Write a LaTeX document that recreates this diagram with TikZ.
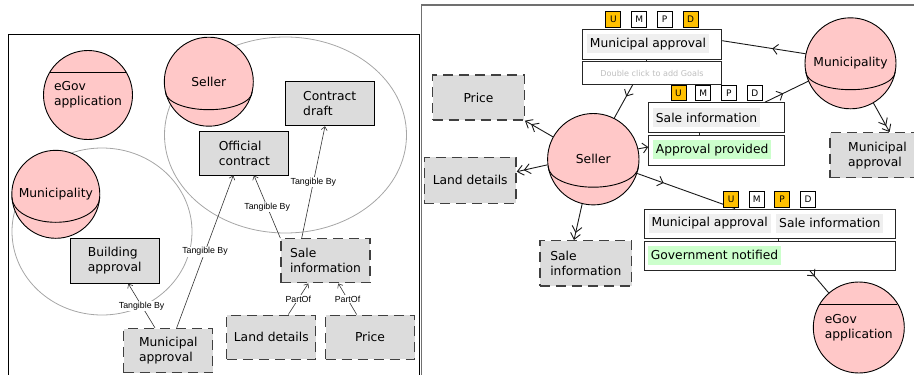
\documentclass[tikz,border=0pt]{standalone}
\usepackage{fontspec}
\setmainfont{DejaVu Sans}
\newfontfamily\lblfont{Liberation Sans}
\usetikzlibrary{arrows.meta,decorations.markings}
\definecolor{pinkc}{HTML}{FFC8C8}
\definecolor{boxgray}{HTML}{DCDCDC}
\definecolor{badgey}{HTML}{FFC000}
\definecolor{greenbg}{HTML}{CCFFCC}
\definecolor{textbg}{HTML}{EFEFEF}
\definecolor{dashc}{HTML}{404040}
\definecolor{framegray}{HTML}{707070}
\tikzset{
  mainfont/.style={font=\fontsize{12.3pt}{15pt}\selectfont},
  actor/.style={circle, draw=black, fill=pinkc, line width=0.9pt, minimum size=89pt, inner sep=0pt, align=left, mainfont},
  docbox/.style={rectangle, fill=boxgray, minimum width=89pt, minimum height=44pt, inner sep=0pt, align=left, mainfont},
  solidbox/.style={docbox, draw=black, line width=0.9pt},
  dashbox/.style={docbox, draw=dashc, line width=1.3pt, dash pattern=on 10pt off 6pt},
  goalbox/.style={rectangle, draw=black!85, line width=1pt, fill=white, inner sep=0pt, minimum height=30pt},
  goaltxt/.style={rectangle, fill=textbg, inner xsep=3pt, inner ysep=0pt, minimum height=19pt, anchor=west, mainfont},
  goalok/.style={goaltxt, fill=greenbg},
  badge/.style={rectangle, draw=black, line width=0.7pt, minimum width=15pt, minimum height=15.5pt, inner sep=0pt, fill=white, font=\fontsize{9pt}{10pt}\selectfont},
  badgeon/.style={badge, fill=badgey},
  tang/.style={draw=black!80, line width=0.6pt, -{Straight Barb[length=3.5pt,width=6pt]}},
  lbl/.style={font=\lblfont\fontsize{8.8pt}{10pt}\selectfont, fill=white, inner sep=1pt},
  boundary/.style={draw=black!35, line width=0.8pt},
  own/.style={draw=black!90, line width=0.9pt, -{Straight Barb[length=6pt,width=10pt,sep=0pt]Straight Barb[length=6pt,width=10pt]}},
  deleg/.style={draw=black!90, line width=0.9pt, postaction={decorate}, decoration={markings, mark=at position #1 with {\arrow{Straight Barb[length=5pt,width=10pt]}}}},
  deleg/.default=0.5,
  delegend/.style={draw=black!90, line width=0.9pt, -{Straight Barb[length=5pt,width=10pt]}},
}
\begin{document}
\begin{tikzpicture}[x=1pt,y=-1pt]
\useasboundingbox (0,0) rectangle (914,375);
\begin{scope}
\clip (0,0) rectangle (914,375);
% frames
\draw[black, line width=1pt] (8,380) -- (8,34) -- (419.5,34) -- (419.5,380);
\draw[framegray, line width=1.5pt] (421.7,380) -- (421.7,5) -- (920,5);
% boundaries
\draw[boundary] (285.5,135) ellipse[x radius=121pt, y radius=98pt];
\draw[boundary] (102,231.5) ellipse[x radius=90pt, y radius=83.5pt];
% ---------- left panel ----------
\node[actor] (egovL) at (88,95) {eGov\\application};
\draw[line width=0.9pt] ([shift={(-38.1,-23)}]egovL.center) -- ++(76.2,0);
\node[actor] (sellerL) at (208.8,81.7) {Seller};
\draw[line width=0.9pt] ([shift={(-43.4,10)}]sellerL.center) arc[start angle=180, end angle=360, x radius=43.4pt, y radius=18pt];
\node[actor, minimum size=88pt] (muniL) at (55.8,194.3) {Municipality};
\draw[line width=0.9pt] ([shift={(-43.9,3)}]muniL.center) arc[start angle=180, end angle=360, x radius=43.9pt, y radius=25pt];
\node[solidbox] (draft) at (329.7,103.8) {Contract\\draft};
\node[solidbox] (official) at (244.3,153) {Official\\contract};
\node[solidbox, minimum height=45pt] (building) at (114.7,260.8) {Building\\approval};
\node[dashbox] (saleL) at (325.5,260.8) {Sale\\information};
\node[dashbox] (muniApL) at (168.3,350.5) {Municipal\\approval};
\node[dashbox] (landL) at (271.3,337.2) {Land details};
\node[dashbox] (priceL) at (370,337.2) {Price};
\draw[tang] ([xshift=-13.3pt]muniApL.north) -- node[lbl, midway] {Tangible By} ([xshift=13.6pt]building.south);
\draw[tang] ([xshift=8.4pt]muniApL.north) -- node[lbl, midway] {Tangible By} ([xshift=-11pt]official.south);
\draw[tang] (saleL.north west) -- node[lbl, midway] {Tangible By} ([xshift=9.7pt]official.south);
\draw[tang] ([xshift=-23.8pt]saleL.north) -- node[lbl, midway] {Tangible By} ([xshift=-4.7pt]draft.south);
\draw[tang] ([xshift=17pt]landL.north) -- node[lbl, midway] {PartOf} ([xshift=-17.2pt]saleL.south);
\draw[tang] ([xshift=-13.3pt]priceL.north) -- node[lbl, midway] {PartOf} ([xshift=12.8pt]saleL.south);
% ---------- right panel ----------
\node[goalbox, minimum width=139.4pt] (goal1) at (652,44.3) {};
\node[goaltxt] (g1t) at (586.7,43.8) {Municipal approval};
\node[goalbox, minimum width=139.4pt, minimum height=22.6pt, text=black!25, font=\fontsize{8.1pt}{10pt}\selectfont] (dbl) at (652,73) {Double click to add Goals};
\draw[black!85, line width=0.8pt] ([xshift=-5.3pt]goal1.south) -- ([xshift=-5.3pt]dbl.north);
\node[goalbox, minimum width=135.6pt] (goal2) at (716.5,117.7) {};
\node[goaltxt] (g2t) at (652.7,117.5) {Sale information};
\node[goalbox, minimum width=135.6pt] (goal3) at (716.5,150) {};
\node[goalok] (g3t) at (652.7,149.7) {Approval provided};
\draw[black!85, line width=0.8pt] ([xshift=-17.2pt]goal2.south) -- ([xshift=-17.2pt]goal3.north);
\node[goalbox, minimum width=251.3pt, minimum height=29.3pt] (goal4) at (769.7,223.7) {};
\node[goaltxt] (g4a) at (648.3,223) {Municipal approval};
\node[goaltxt] (g4b) at (776,223) {Sale information};
\node[goalbox, minimum width=251.3pt, minimum height=29.3pt] (goal5) at (769.7,255.7) {};
\node[goalok] (g5t) at (647.7,255.4) {Government notified};
\draw[black!85, line width=0.8pt] ([xshift=8.6pt]goal4.south) -- ([xshift=8.6pt]goal5.north);
\node[actor, minimum size=91pt] (muniR) at (850.5,63.3) {Municipality};
\draw[line width=0.9pt] ([shift={(-44.7,8.4)}]muniR.center) arc[start angle=180, end angle=360, x radius=44.7pt, y radius=18pt];
\node[actor, minimum size=91.4pt] (sellerR) at (593.3,159.2) {Seller};
\draw[line width=0.9pt] ([shift={(-45.2,7)}]sellerR.center) arc[start angle=180, end angle=360, x radius=45.2pt, y radius=21pt];
\node[actor, minimum size=91pt] (egovR) at (858.8,327.5) {eGov\\application};
\draw[line width=0.9pt] ([shift={(-38.6,-23.2)}]egovR.center) -- ++(77.2,0);
\node[dashbox, minimum width=95pt, minimum height=45pt, anchor=west] (muniApR) at (829.3,155.2) {Municipal\\approval};
\node[dashbox, minimum width=91.6pt, minimum height=45pt] (priceR) at (478.5,97.5) {Price};
\node[dashbox, minimum width=91.7pt, minimum height=46pt] (landR) at (470.2,180.3) {Land details};
\node[dashbox, minimum width=91.7pt, minimum height=45.3pt] (saleR) at (585.8,263.3) {Sale\\information};
% connectors
\draw[deleg=0.4] (muniR.168) -- ([yshift=3.6pt]goal1.east);
\draw[deleg=0.35] ([xshift=-19.3pt]dbl.south) -- (sellerR.63);
\draw[own] (sellerR.151) -- (priceR.south east);
\draw[own] (sellerR.187.3) -- ([yshift=8.6pt]landR.east);
\draw[own] (sellerR.256.5) -- ([xshift=-11.8pt]saleR.north);
\draw[delegend] (sellerR.13.6) -- ([yshift=3pt]goal3.west);
\draw[deleg=0.42] ([xshift=48.5pt]goal2.north) -- (muniR.203.6);
\draw[deleg=0.27] (sellerR.342) -- ([xshift=-34.7pt]goal4.north);
\draw[deleg=0.25] ([xshift=40.3pt]goal5.south) -- (egovR.131.3);
\draw[own] (muniR.-60.3) -- ([xshift=-36pt]muniApR.north east);
% badges
\node[badgeon] (b1u) at (613.3,19.5) {U};
\node[badge] (b1m) at (639.3,19.5) {M};
\node[badge] (b1p) at (664.7,19.5) {P};
\node[badgeon] (b1d) at (690.7,19.5) {D};
\node[badgeon] (b2u) at (678.5,92.8) {U};
\node[badge] (b2m) at (703.2,92.8) {M};
\node[badge] (b2p) at (728.8,92.8) {P};
\node[badge] (b2d) at (754.8,92.8) {D};
\node[badgeon] (b3u) at (731.2,199.2) {U};
\node[badge] (b3m) at (756.8,199.2) {M};
\node[badgeon] (b3p) at (782.2,199.2) {P};
\node[badge] (b3d) at (808,199.2) {D};
\end{scope}
\end{tikzpicture}
\end{document}
